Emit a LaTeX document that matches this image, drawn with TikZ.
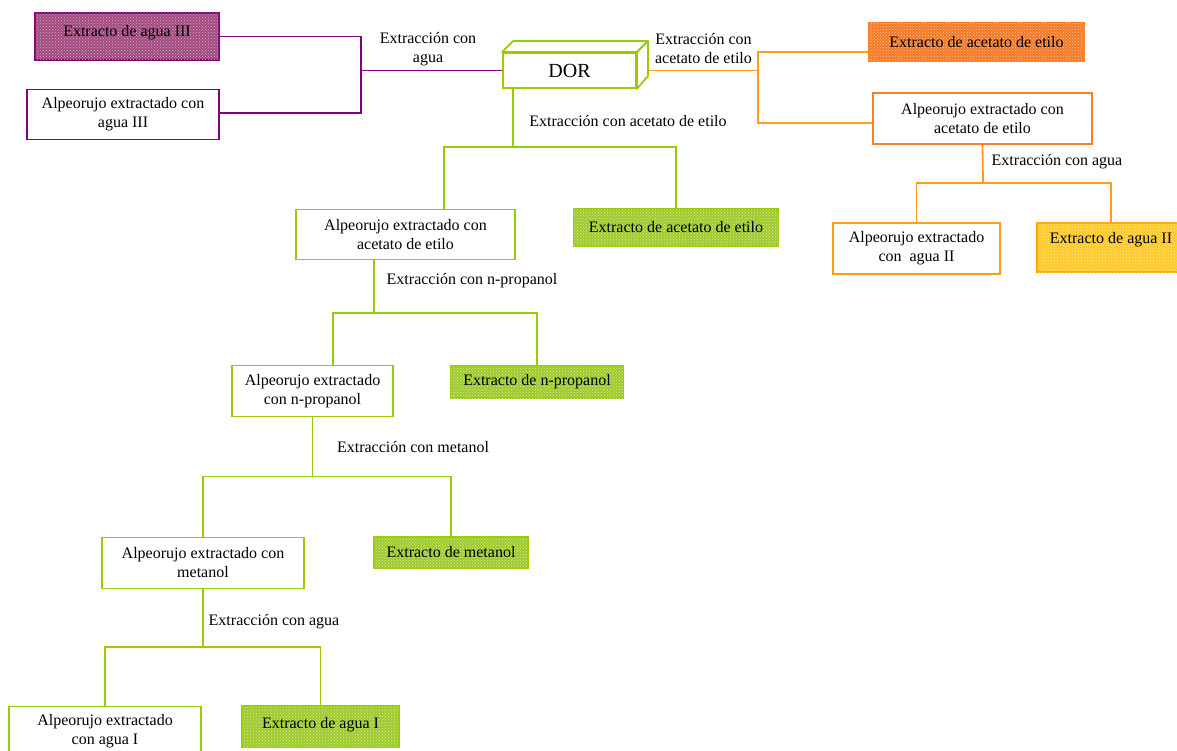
\documentclass[tikz,border=0pt]{standalone}
\usepackage{fontspec}
\setmainfont{Liberation Serif}
\usetikzlibrary{patterns}
\definecolor{gline}{HTML}{99CC00}
\definecolor{gfill}{HTML}{9FCB2E}
\definecolor{purp}{HTML}{800080}
\definecolor{pfill}{HTML}{A24A80}
\definecolor{oline}{HTML}{FF9D1A}
\definecolor{oborder}{HTML}{F7802A}
\definecolor{ofill}{HTML}{F47A26}
\definecolor{yfill}{HTML}{FFC928}
\definecolor{yborder}{HTML}{FFA500}
\begin{document}
\begin{tikzpicture}[x=1pt,y=-1pt,
  txt/.style={font=\fontsize{16}{19}\selectfont, align=center, inner sep=0pt},
  wbox/.style={txt, draw=#1, fill=white, line width=1.8pt},
  xbox/.style 2 args={txt, draw=#1, fill=#2, line width=1.8pt,
     postaction={pattern=crosshatch dots, pattern color=white!55!#2}},
  lab/.style={txt},
  pl/.style={draw=purp, line width=1.8pt},
  ol/.style={draw=oline, line width=1.8pt},
  gl/.style={draw=gline, line width=1.8pt}]
\useasboundingbox (0,0) rectangle (1177,751);

% DOR
\node[wbox=gline, font=\fontsize{20}{22}\selectfont, minimum width=133pt, minimum height=35pt] (dor) at (569.5,70.5) {DOR};
\draw[gline, line width=1.8pt, line join=round, fill=white]
  (dor.north west) -- ++(11,-11) -- ([shift={(11,-11)}]dor.north east) -- (dor.north east) -- cycle;
\draw[gline, line width=1.8pt, line join=round, fill=white]
  (dor.north east) -- ++(11,-11) -- ++(0,35) -- (dor.south east) -- cycle;

% purple branch
\node[xbox={purp}{pfill}, text depth=11pt, minimum width=184pt, minimum height=47pt] (pE) at (127,36.5) {Extracto de agua III};
\node[wbox=purp, minimum width=192pt, minimum height=50pt] (pA) at (123,114.5) {Alpeorujo extractado con\\agua III};
\node[lab] (pL) at (428,49.5) {Extracción con\\agua};

% orange branch
\node[xbox={oborder}{ofill}, minimum width=215pt, minimum height=38pt] (oE) at (976.5,42) {Extracto de acetato de etilo};
\node[wbox=oborder, minimum width=219pt, minimum height=51pt] (oA) at (982.5,118.5) {Alpeorujo extractado con\\acetato de etilo};
\node[lab] (oL) at (703.5,48.5) {Extracción con\\acetato de etilo};
\node[wbox=oline, minimum width=167pt, minimum height=51pt] (oA2) at (916.5,248.5) {Alpeorujo extractado\\con\ \ agua II};
\node[xbox={yborder}{yfill}, text depth=20pt, minimum width=148pt, minimum height=49pt] (oY) at (1111,247.5) {Extracto de agua II};
\node[lab] (oL2) at (1057,161.5) {Extracción con agua};

% green branch
\node[lab] (gL0) at (628,121.5) {Extracción con acetato de etilo};
\node[wbox=gline, minimum width=219pt, minimum height=50pt] (gA1) at (405.5,234.5) {Alpeorujo extractado con\\acetato de etilo};
\node[xbox={gline}{gfill}, minimum width=205pt, minimum height=37pt] (gE1) at (676,227.5) {Extracto de acetato de etilo};
\node[lab] (gL1) at (472,280.5) {Extracción con n-propanol};
\node[wbox=gline, minimum width=161pt, minimum height=51pt] (gA2) at (312.5,391) {Alpeorujo extractado\\con n-propanol};
\node[xbox={gline}{gfill}, minimum width=173pt, minimum height=32pt] (gE2) at (537,382) {Extracto de n-propanol};
\node[lab] (gL2) at (413,447.5) {Extracción con metanol};
\node[wbox=gline, minimum width=202pt, minimum height=51pt] (gA3) at (203,563) {Alpeorujo extractado con\\metanol};
\node[xbox={gline}{gfill}, minimum width=154pt, minimum height=31pt] (gE3) at (451,552.5) {Extracto de metanol};
\node[lab] (gL3) at (274,621.5) {Extracción con agua};
\node[wbox=gline, minimum width=192pt, minimum height=50pt] (gA4) at (105,731.5) {Alpeorujo extractado\\con agua I};
\node[xbox={gline}{gfill}, text depth=7pt, minimum width=157pt, minimum height=41pt] (gE4) at (320.5,726.5) {Extracto de agua I};

% connectors: purple
\coordinate (pj) at (361,70.5);
\draw[pl] (pE.east) -| (pj) |- ([yshift=1.5pt]pA.east);
\draw[pl] (pj) -- (dor.west);

% connectors: orange
\coordinate (oj) at (758,70.5);
\draw[ol] ([xshift=11pt]dor.east) -- (oj);
\draw[ol] ([yshift=-10pt]oE.west) -| (oj) |- ([yshift=-4.5pt]oA.west);
\coordinate (ob) at (983,183);
\draw[ol] (oA.south) -- (ob);
\draw[ol] (oA2.north) |- (ob) -| (oY.north);

% connectors: green
\coordinate (g0) at (513,147);
\draw[gl] (dor.south -| g0) -- (g0);
\draw[gl] ([xshift=38.5pt]gA1.north) |- (g0) -| (gE1.north);
\coordinate (g1) at (374,313);
\draw[gl] (gA1.south -| g1) -- (g1);
\draw[gl] ([xshift=20.5pt]gA2.north) |- (g1) -| (gE2.north);
\coordinate (g2) at (312.5,476.5);
\draw[gl] (gA2.south) -- (g2);
\draw[gl] (gA3.north) |- (g2) -| (gE3.north);
\coordinate (g3) at (203,647);
\draw[gl] (gA3.south) -- (g3);
\draw[gl] (gA4.north) |- (g3) -| (gE4.north);
\end{tikzpicture}
\end{document}
